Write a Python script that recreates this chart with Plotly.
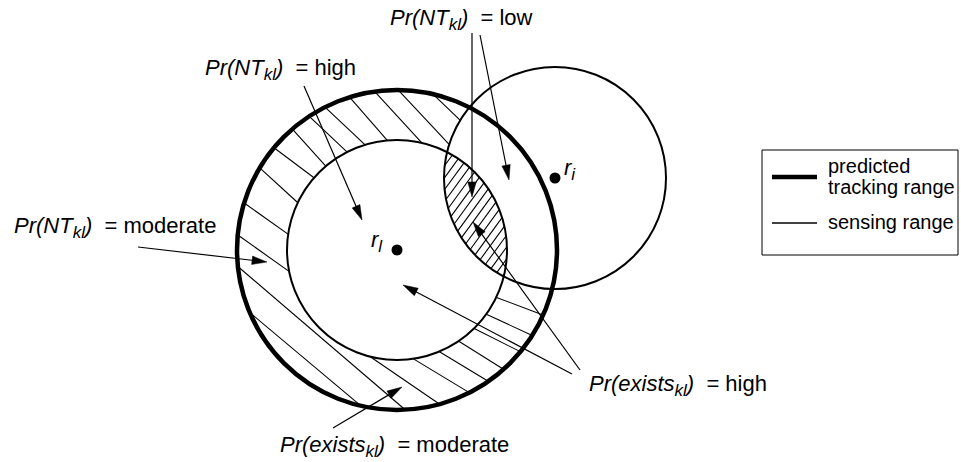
import numpy as np
import plotly.graph_objects as go

W, H = 961, 462
FONT = "Liberation Sans, Arial, Helvetica, sans-serif"
FS = 22
SUB = 17

# ---- circles (centre x, centre y, radius, line width) ----
circle_names = ["tracking range of l", "sensing range of l", "sensing range of i"]
circle_cx = [397, 397, 555]
circle_cy = [250, 250, 178]
circle_r = [160, 110, 111]
circle_lw = [4.5, 2.0, 2.0]

# ---- nodes ----
node_names = ["l", "i"]
node_x = [397, 555]
node_y = [250, 178]
node_label_x = [369, 562]
node_label_y = [241, 169]

# ---- ring hatch strokes (two points read on each stroke) ----
ring_hatch_x0 = [437, 402, 376, 352, 327, 311, 295, 277, 262, 247, 242, 242, 255, 375, 412, 440, 460, 473, 488, 498]
ring_hatch_y0 = [98, 94, 93, 100, 109, 118, 132, 150, 170, 205, 238, 270, 317, 360, 358, 352, 342, 328, 315, 298]
ring_hatch_x1 = [460, 447, 422, 387, 362, 345, 323, 313, 297, 285, 290, 402, 360, 435, 465, 483, 500, 517, 527, 543]
ring_hatch_y1 = [120, 142, 143, 140, 142, 150, 163, 177, 202, 232, 272, 407, 405, 401, 390, 378, 367, 350, 333, 315]

# lens hatch: angle (deg) and spacing (px)
lens_hatch_angle = 54
lens_hatch_step = 7.0

# ---- arrows: start -> tip ----
arrow_names = ["NT high", "NT low a", "NT low b", "NT moderate", "exists moderate", "exists high a", "exists high b"]
arrow_x0 = [304, 472, 480, 138, 333, 580, 572]
arrow_y0 = [86, 33, 35, 247, 428, 370, 374]
arrow_x1 = [362, 472, 509, 267, 402, 473, 403]
arrow_y1 = [220, 197, 180, 262, 387, 222, 285]


def sub(s):
    return f'<sub><span style="font-size:{SUB}px">{s}</span></sub>'


# ---- labels ----
label_text = [
    f"<i>Pr(NT{sub('kl')})</i>\u00a0\u00a0= low",
    f"<i>Pr(NT{sub('kl')})</i>\u00a0\u00a0= high",
    f"<i>Pr(NT{sub('kl')})</i>\u00a0\u00a0= moderate",
    f"<i>Pr(exists{sub('kl')})</i>\u00a0\u00a0= high",
    f"<i>Pr(exists{sub('kl')})</i>\u00a0\u00a0= moderate",
]
label_x = [388, 203, 12, 587, 278]
label_y = [19, 69, 227, 385, 446]

# ---- legend ----
legend_box = [762, 150, 958, 255]
legend_lw = [4.5, 1.5]
legend_line_y = [177, 223]
legend_text_lines = [("predicted", 166), ("tracking range", 187), ("sensing range", 222)]


def d(x, y, i):
    return np.hypot(x - circle_cx[i], y - circle_cy[i])


def inside_ring(x, y):
    return (d(x, y, 1) >= circle_r[1]) & (d(x, y, 0) <= circle_r[0]) & (d(x, y, 2) >= circle_r[2])


def inside_lens(x, y):
    return (d(x, y, 1) <= circle_r[1]) & (d(x, y, 2) <= circle_r[2])


def clip_from(mx, my, ux, uy, inside):
    ts = np.arange(-40, 40.01, 0.5)
    m = inside(mx + ts * ux, my + ts * uy)
    if not m.any():
        return None
    idx = np.where(m)[0]
    t0 = ts[idx[np.argmin(np.abs(ts[idx]))]]
    step = 0.25
    tf = t0
    while inside(mx + (tf + step) * ux, my + (tf + step) * uy) and tf < 500:
        tf += step
    tb = t0
    while inside(mx + (tb - step) * ux, my + (tb - step) * uy) and tb > -500:
        tb -= step
    return (mx + tb * ux, my + tb * uy, mx + tf * ux, my + tf * uy)


fig = go.Figure()

# ring hatch
hx, hy = [], []
for x0, y0, x1, y1 in zip(ring_hatch_x0, ring_hatch_y0, ring_hatch_x1, ring_hatch_y1):
    L = np.hypot(x1 - x0, y1 - y0)
    ux, uy = (x1 - x0) / L, (y1 - y0) / L
    seg = clip_from((x0 + x1) / 2, (y0 + y1) / 2, ux, uy, inside_ring)
    if seg:
        hx += [seg[0], seg[2], None]
        hy += [seg[1], seg[3], None]
fig.add_trace(go.Scatter(x=hx, y=hy, mode="lines", line=dict(color="black", width=1.1),
                         hoverinfo="skip", showlegend=False))

# lens hatch
a = np.radians(lens_hatch_angle)
ux, uy = np.cos(a), -np.sin(a)
nx, ny = np.sin(a), np.cos(a)
lx, ly = [], []
cx0, cy0 = 478, 215
for k in np.arange(-12, 13):
    px, py = cx0 + k * lens_hatch_step * nx, cy0 + k * lens_hatch_step * ny
    ts = np.arange(-200, 200, 0.25)
    m = inside_lens(px + ts * ux, py + ts * uy)
    if m.sum() > 1:
        tt = ts[m]
        lx += [px + tt.min() * ux, px + tt.max() * ux, None]
        ly += [py + tt.min() * uy, py + tt.max() * uy, None]
fig.add_trace(go.Scatter(x=lx, y=ly, mode="lines", line=dict(color="black", width=1.1),
                         hoverinfo="skip", showlegend=False))

# nodes
fig.add_trace(go.Scatter(x=node_x, y=node_y, mode="markers", marker=dict(color="black", size=11),
                         hoverinfo="skip", showlegend=False))

shapes = []
for cx, cy, r, lw in zip(circle_cx, circle_cy, circle_r, circle_lw):
    shapes.append(dict(type="circle", xref="x", yref="y", x0=cx - r, y0=cy - r, x1=cx + r, y1=cy + r,
                       line=dict(color="black", width=lw)))

# arrows
HL, HW = 15, 4.2
for x0, y0, x1, y1 in zip(arrow_x0, arrow_y0, arrow_x1, arrow_y1):
    L = np.hypot(x1 - x0, y1 - y0)
    ux_, uy_ = (x1 - x0) / L, (y1 - y0) / L
    bx, by = x1 - HL * ux_, y1 - HL * uy_
    shapes.append(dict(type="line", xref="x", yref="y", x0=x0, y0=y0, x1=bx + 2 * ux_, y1=by + 2 * uy_,
                       line=dict(color="black", width=1.2)))
    p1 = (bx - HW * uy_, by + HW * ux_)
    p2 = (bx + HW * uy_, by - HW * ux_)
    shapes.append(dict(type="path", xref="x", yref="y",
                       path=f"M {x1:.2f},{y1:.2f} L {p1[0]:.2f},{p1[1]:.2f} L {p2[0]:.2f},{p2[1]:.2f} Z",
                       fillcolor="black", line=dict(color="black", width=0.5)))

# legend
shapes.append(dict(type="rect", xref="x", yref="y", x0=legend_box[0], y0=legend_box[1],
                   x1=legend_box[2], y1=legend_box[3], line=dict(color="black", width=1)))
for lw, ly_ in zip(legend_lw, legend_line_y):
    shapes.append(dict(type="line", xref="x", yref="y", x0=772, y0=ly_, x1=817, y1=ly_,
                       line=dict(color="black", width=lw)))

annotations = []
for t, x, y in zip(label_text, label_x, label_y):
    annotations.append(dict(text=t, x=x, y=y, xref="x", yref="y", xanchor="left", yanchor="middle",
                            showarrow=False, font=dict(family=FONT, size=FS, color="black")))
for n, x, y in zip(node_names, node_label_x, node_label_y):
    annotations.append(dict(text=f"<i>r{sub(n)}</i>", x=x, y=y, xref="x", yref="y",
                            xanchor="left", yanchor="middle", showarrow=False,
                            font=dict(family=FONT, size=FS, color="black")))
for t, y in legend_text_lines:
    annotations.append(dict(text=t, x=826, y=y, xref="x", yref="y", xanchor="left", yanchor="middle",
                            showarrow=False, font=dict(family=FONT, size=20, color="black")))

fig.update_layout(
    width=W, height=H, margin=dict(l=0, r=0, t=0, b=0),
    paper_bgcolor="white", plot_bgcolor="white",
    xaxis=dict(range=[0, W], visible=False, fixedrange=True),
    yaxis=dict(range=[H, 0], visible=False, fixedrange=True),
    shapes=shapes, annotations=annotations, showlegend=False,
)

fig.write_html("out.html", config={"displayModeBar": False},
               post_script="document.body.style.margin='0px';")
